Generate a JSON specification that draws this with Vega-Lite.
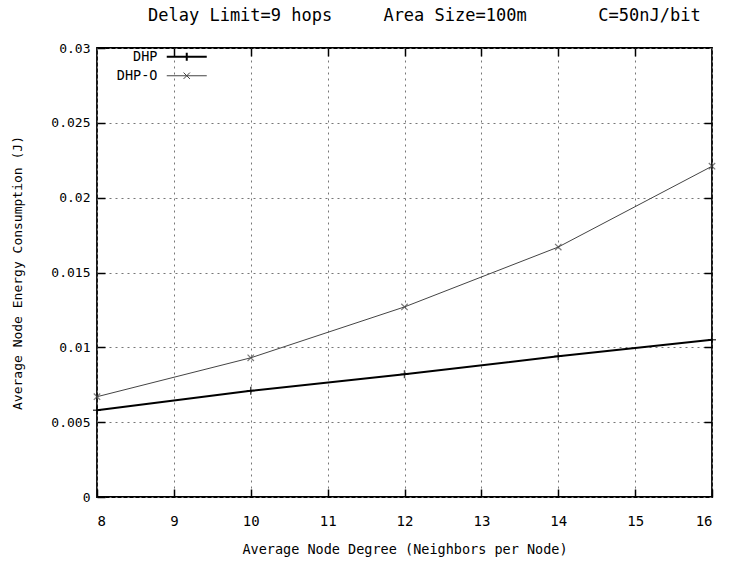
{
  "$schema": "https://vega.github.io/schema/vega-lite/v6.json",
  "width": 615,
  "height": 449,
  "autosize": {"type": "none"},
  "padding": {"left": 97, "top": 48, "right": 38, "bottom": 68},
  "background": "white",
  "config": {
    "font": "DejaVu Sans Mono",
    "view": {"stroke": "black", "strokeWidth": 1.8}
  },
  "title": {
    "text": "Delay Limit=9 hops\u00a0\u00a0\u00a0\u00a0\u00a0Area Size=100m\u00a0\u00a0\u00a0\u00a0\u00a0\u00a0\u00a0C=50nJ/bit",
    "anchor": "start",
    "frame": "group",
    "dx": 51,
    "offset": 17,
    "fontSize": 17,
    "fontWeight": "normal",
    "color": "black",
    "font": "DejaVu Sans Mono"
  },
  "data": {
    "values": [
      {"degree": 8, "energy": 0.0058, "series": "DHP"},
      {"degree": 10, "energy": 0.0071, "series": "DHP"},
      {"degree": 12, "energy": 0.0082, "series": "DHP"},
      {"degree": 14, "energy": 0.0094, "series": "DHP"},
      {"degree": 16, "energy": 0.0105, "series": "DHP"},
      {"degree": 8, "energy": 0.0067, "series": "DHP-O"},
      {"degree": 10, "energy": 0.0093, "series": "DHP-O"},
      {"degree": 12, "energy": 0.0127, "series": "DHP-O"},
      {"degree": 14, "energy": 0.0167, "series": "DHP-O"},
      {"degree": 16, "energy": 0.0221, "series": "DHP-O"}
    ]
  },
  "resolve": {
    "axis": {"x": "independent", "y": "independent"},
    "scale": {"x": "independent", "y": "independent"}
  },
  "layer": [
    {
      "mark": {"type": "line"},
      "encoding": {
        "x": {
          "field": "degree", "type": "quantitative",
          "scale": {"domain": [8, 16], "nice": false, "zero": false},
          "axis": {
            "title": "Average Node Degree (Neighbors per Node)",
            "values": [8, 9, 10, 11, 12, 13, 14, 15, 16],
            "format": "d",
            "domain": false,
            "grid": true, "gridColor": "#777", "gridDash": [2, 4], "gridWidth": 1,
            "ticks": true, "tickSize": -8, "tickColor": "black", "tickWidth": 1.5,
            "labelPadding": 25, "labelFontSize": 14, "labelColor": "black", "labelFont": "DejaVu Sans Mono",
            "titleFontSize": 13.5, "titleFontWeight": "normal", "titleColor": "black", "titleFont": "DejaVu Sans Mono", "titlePadding": 14
          }
        },
        "y": {
          "field": "energy", "type": "quantitative",
          "scale": {"domain": [0, 0.03], "nice": false},
          "axis": {
            "title": "Average Node Energy Consumption (J)",
            "values": [0, 0.005, 0.01, 0.015, 0.02, 0.025, 0.03],
            "format": "~g",
            "domain": false,
            "grid": true, "gridColor": "#777", "gridDash": [2, 4], "gridWidth": 1,
            "ticks": true, "tickSize": -8, "tickColor": "black", "tickWidth": 1.5,
            "labelPadding": 15, "labelFontSize": 13, "labelColor": "black", "labelFont": "DejaVu Sans Mono",
            "titleFontSize": 13, "titleFontWeight": "normal", "titleColor": "black", "titleFont": "DejaVu Sans Mono", "titlePadding": 26
          }
        },
        "color": {
          "field": "series", "type": "nominal",
          "scale": {"domain": ["DHP", "DHP-O"], "range": ["#000000", "#444444"]},
          "legend": {
            "title": null,
            "orient": "none",
            "legendX": 83,
            "legendY": 2,
            "padding": 0,
            "symbolSize": 64,
            "symbolType": "stroke",
            "labelAlign": "right",
            "labelOffset": -36,
            "labelFontSize": 13.5,
            "labelColor": "black",
            "labelFont": "DejaVu Sans Mono",
            "rowPadding": 3,
            "encoding": {
              "symbols": {
                "shape": {
                  "condition": {"test": "datum.value === 'DHP'", "value": "M-5,0L5,0M0,-1L0,1"},
                  "value": "M-5,0L5,0M-0.8,-0.8L0.8,0.8M-0.8,0.8L0.8,-0.8"
                },
                "strokeWidth": {
                  "condition": {"test": "datum.value === 'DHP'", "value": 2},
                  "value": 1
                },
                "fill": {"value": "transparent"},
                "size": {"value": 64}
              }
            }
          }
        },
        "strokeWidth": {
          "field": "series", "type": "nominal",
          "scale": {"domain": ["DHP", "DHP-O"], "range": [2, 1]},
          "legend": null
        }
      }
    },
    {
      "transform": [{"filter": "datum.series === 'DHP'"}],
      "mark": {"type": "point", "filled": false, "size": 64, "strokeWidth": 1.5, "color": "#000000", "shape": "M-1,0L1,0M0,-1L0,1"},
      "encoding": {
        "x": {"field": "degree", "type": "quantitative", "scale": {"domain": [8, 16], "nice": false, "zero": false}, "axis": null},
        "y": {"field": "energy", "type": "quantitative", "scale": {"domain": [0, 0.03], "nice": false}, "axis": null}
      }
    },
    {
      "transform": [{"filter": "datum.series === 'DHP-O'"}],
      "mark": {"type": "point", "filled": false, "size": 64, "strokeWidth": 1.2, "color": "#444444", "shape": "M-0.8,-0.8L0.8,0.8M-0.8,0.8L0.8,-0.8"},
      "encoding": {
        "x": {"field": "degree", "type": "quantitative", "scale": {"domain": [8, 16], "nice": false, "zero": false}, "axis": null},
        "y": {"field": "energy", "type": "quantitative", "scale": {"domain": [0, 0.03], "nice": false}, "axis": null}
      }
    },
    {
      "mark": {"type": "point", "opacity": 0},
      "encoding": {
        "x": {
          "field": "degree", "type": "quantitative",
          "scale": {"domain": [8, 16], "nice": false, "zero": false},
          "axis": {"orient": "top", "title": null, "labels": false, "domain": false, "grid": false, "ticks": true, "values": [9, 10, 11, 12, 13, 14, 15], "tickSize": -8, "tickColor": "black", "tickWidth": 1.5}
        },
        "y": {
          "field": "energy", "type": "quantitative",
          "scale": {"domain": [0, 0.03], "nice": false},
          "axis": {"orient": "right", "title": null, "labels": false, "domain": false, "grid": false, "ticks": true, "values": [0.005, 0.01, 0.015, 0.02, 0.025], "tickSize": -8, "tickColor": "black", "tickWidth": 1.5}
        }
      }
    }
  ]
}
